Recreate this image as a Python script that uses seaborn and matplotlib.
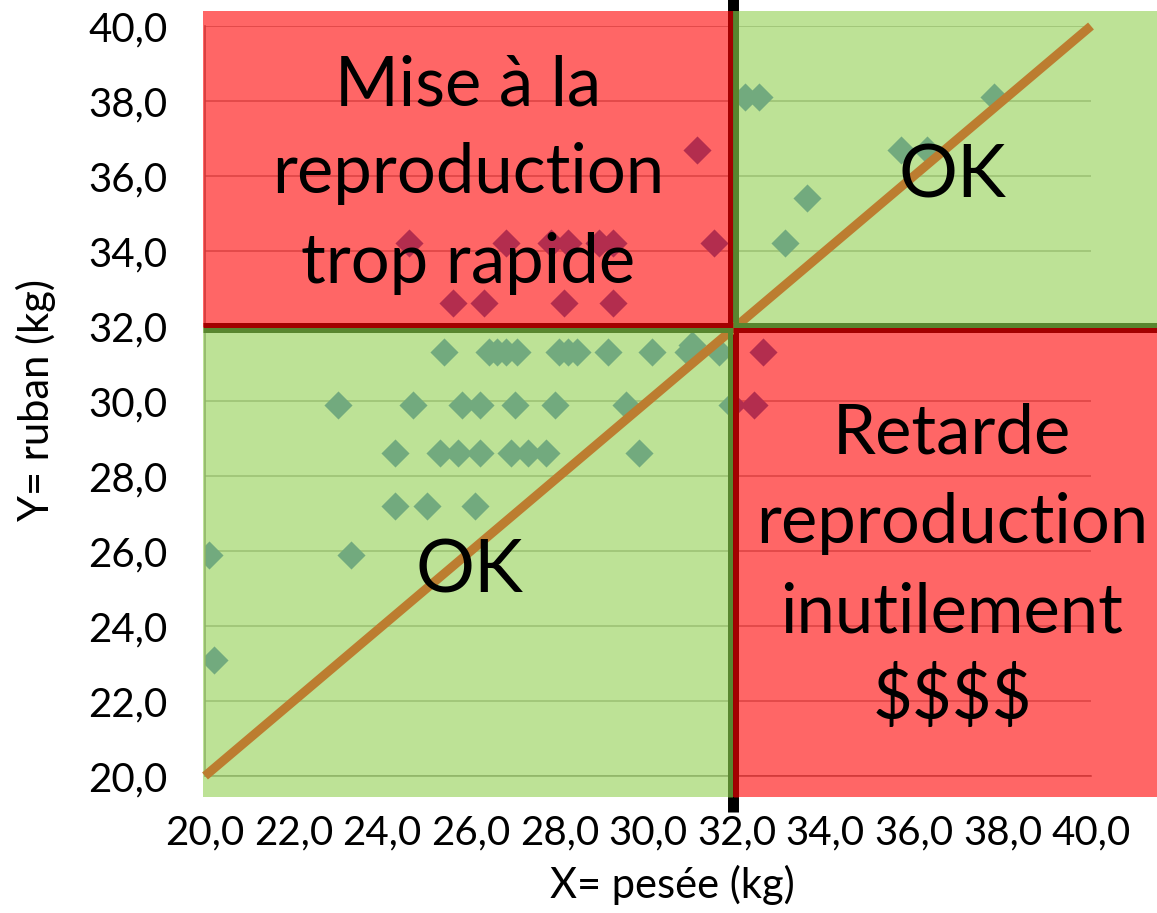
import matplotlib
matplotlib.use("Agg")
import matplotlib.pyplot as plt
import matplotlib.transforms as mtransforms
from matplotlib.patches import Rectangle
from matplotlib.lines import Line2D
import seaborn as sns

# ---------------- data ----------------
pesee_kg = [32.2, 32.5, 37.8,
            31.1, 35.7, 36.3,
            33.6,
            24.6, 26.8, 27.8, 28.2, 28.9, 29.2, 31.5, 33.1,
            25.6, 26.3, 28.1, 29.2,
            31.0,
            25.4, 26.4, 26.6, 26.8, 27.05, 28.0, 28.2, 28.4, 29.1, 30.1, 30.9, 31.6, 32.6,
            23.0, 24.7, 25.8, 26.2, 27.0, 27.9, 29.5, 31.9, 32.4,
            24.3, 25.3, 25.7, 26.2, 26.9, 27.3, 27.7, 29.8,
            24.3, 25.0, 26.1,
            20.1, 23.3,
            20.2]
ruban_kg = [38.1, 38.1, 38.1,
            36.7, 36.7, 36.7,
            35.4,
            34.2, 34.2, 34.2, 34.2, 34.2, 34.2, 34.2, 34.2,
            32.6, 32.6, 32.6, 32.6,
            31.5,
            31.3, 31.3, 31.3, 31.3, 31.3, 31.3, 31.3, 31.3, 31.3, 31.3, 31.3, 31.3, 31.3,
            29.9, 29.9, 29.9, 29.9, 29.9, 29.9, 29.9, 29.9, 29.9,
            28.6, 28.6, 28.6, 28.6, 28.6, 28.6, 28.6, 28.6,
            27.2, 27.2, 27.2,
            25.9, 25.9,
            23.1]

x_ticks = [20.0, 22.0, 24.0, 26.0, 28.0, 30.0, 32.0, 34.0, 36.0, 38.0, 40.0]
x_tick_labels = ["20,0", "22,0", "24,0", "26,0", "28,0", "30,0",
                 "32,0", "34,0", "36,0", "38,0", "40,0"]
y_ticks = [20.0, 22.0, 24.0, 26.0, 28.0, 30.0, 32.0, 34.0, 36.0, 38.0, 40.0]
y_tick_labels = ["20,0", "22,0", "24,0", "26,0", "28,0", "30,0",
                 "32,0", "34,0", "36,0", "38,0", "40,0"]

ref_line_x = [20.0, 40.0]
ref_line_y = [20.0, 40.0]

seuil_x = 31.92
seuil_y = 31.96

zone_left, zone_right = 19.955, 41.6
zone_bottom, zone_top = 19.44, 40.40

label_tl = ["Mise à la", "reproduction", "trop rapide"]
label_br = ["Retarde", "reproduction", "inutilement", "$$$$"]
label_ok = "OK"

# ---------------- style ----------------
sns.set_style("white")
plt.rcParams['font.family'] = ['Lato', 'DejaVu Sans']
plt.rcParams['text.color'] = 'black'
plt.rcParams['axes.labelcolor'] = 'black'

W, H, DPI = 1157, 913, 100
fig = plt.figure(figsize=(W / DPI, H / DPI), dpi=DPI, facecolor='white')
ax = fig.add_axes([205 / W, 137 / H, 886 / W, 750 / H])
ax.set_facecolor('none')

sns.scatterplot(x=pesee_kg, y=ruban_kg, marker='D', s=205, color='#4472c4',
                linewidth=0, ax=ax, zorder=1, legend=False)

ax.set_xlim(20, 40)
ax.set_ylim(20, 40)
ax.set_xticks(x_ticks)
ax.set_xticklabels(x_tick_labels)
ax.set_yticks(y_ticks)
ax.set_yticklabels(y_tick_labels)
ax.set_axisbelow(True)
ax.grid(axis='y', color='#a6a6a6', lw=1.1)
ax.grid(axis='x', visible=False)
for s in ['top', 'right']:
    ax.spines[s].set_visible(False)
for s in ['left', 'bottom']:
    ax.spines[s].set_color('#868686')
    ax.spines[s].set_linewidth(1.1)
ax.tick_params(axis='both', direction='out', length=9, width=1.1,
               color='#868686', labelsize=29, labelcolor='black')
ax.tick_params(axis='x', pad=19)
ax.tick_params(axis='y', pad=18)

ax.set_xlabel("X= pesée (kg)", fontsize=30, color='black')
ax.set_ylabel("Y= ruban (kg)", fontsize=30, color='black')
ax.xaxis.label.set_va('center')
ax.yaxis.label.set_va('center')
ax.xaxis.set_label_coords((672 - 205) / 886, (776 - 885) / 750)
ax.yaxis.set_label_coords((36 - 205) / 886, (776 - 400) / 750)

# black divider behind the zones
ax.add_line(Line2D([seuil_x, seuil_x], [19.04, 41.5], color='black', lw=7.9,
                   zorder=2.9, clip_on=False, solid_capstyle='butt'))

RED, GREEN = '#ff0000', '#92d050'
DRED, DGREEN = '#a30000', '#58862f'
zones = [
    (zone_left, seuil_x, seuil_y, zone_top, RED),
    (seuil_x, zone_right, seuil_y, zone_top, GREEN),
    (zone_left, seuil_x, zone_bottom, seuil_y, GREEN),
    (seuil_x, zone_right, zone_bottom, seuil_y, RED),
]
for x0, x1, y0, y1, c in zones:
    ax.add_patch(Rectangle((x0, y0), x1 - x0, y1 - y0, facecolor=c, alpha=0.6,
                           edgecolor='none', zorder=3, clip_on=False))

# reference line y = x
ax.plot(ref_line_x, ref_line_y, color='#bc7d30', lw=6.5, zorder=4,
        solid_capstyle='butt', clip_on=False)

def off(dx, dy):
    return mtransforms.offset_copy(ax.transData, fig=fig, x=dx, y=dy, units='dots')

bw = 3.6
d = 2.6
borders = [
    ([seuil_x, seuil_x], [seuil_y, zone_top], DRED, off(-d, 0)),
    ([seuil_x, seuil_x], [seuil_y, zone_top], DGREEN, off(d, 0)),
    ([seuil_x, seuil_x], [zone_bottom, seuil_y], DGREEN, off(-d, 0)),
    ([seuil_x, seuil_x], [zone_bottom, seuil_y], DRED, off(d, 0)),
    ([zone_left, seuil_x], [seuil_y, seuil_y], DRED, off(0, d)),
    ([zone_left, seuil_x], [seuil_y, seuil_y], DGREEN, off(0, -d)),
    ([seuil_x, zone_right], [seuil_y, seuil_y], DGREEN, off(0, d)),
    ([seuil_x, zone_right], [seuil_y, seuil_y], DRED, off(0, -d)),
]
for xs, ys, c, tr in borders:
    ax.add_line(Line2D(xs, ys, color=c, lw=bw, transform=tr, zorder=4.5,
                       clip_on=False, solid_capstyle='butt'))

# zone labels
def ftext(px, py, s, size):
    fig.text(px / W, 1 - py / H, s, ha='center', va='baseline',
             fontsize=size, color='black', zorder=6, parse_math=False)

for s, py in zip(label_tl, [105, 193, 283]):
    ftext(468, py, s, 49.5)
for s, py in zip(label_br, [453, 543, 632, 719]):
    ftext(952, py, s, 49.5)
ftext(952, 198, label_ok, 53)
ftext(469, 592, label_ok, 53)

fig.savefig("out.png", dpi=DPI, facecolor='white')
